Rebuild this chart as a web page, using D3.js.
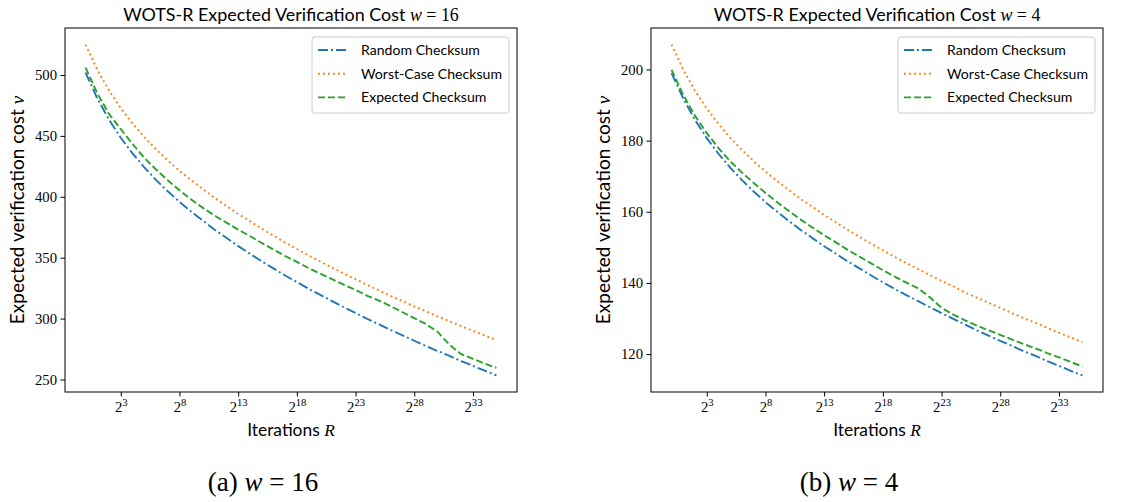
<!DOCTYPE html>
<html>
<head>
<meta charset="utf-8">
<script src="https://cdn.jsdelivr.net/npm/d3@7"></script>
<style>
  html, body { margin: 0; padding: 0; background: #fff; }
  svg { display: block; }
</style>
</head>
<body>
<svg id="fig" width="1138" height="502"></svg>
<script>
// Iteration counts R = 2^e for e = 0 .. 35
const exponents = [0,1,2,3,4,5,6,7,8,9,10,11,12,13,14,15,16,17,18,19,20,21,22,23,24,25,26,27,28,29,30,31,32,33,34,35];

// w = 16
const randomW16 = [502,480.8,463.3,448.5,435.6,424.2,413.9,404.5,395.9,387.8,380.4,373.0,366.3,359.5,353.3,347.1,341.2,335.4,330.0,324.5,319.4,314.4,309.3,304.6,299.7,295.2,290.6,286.2,281.8,277.5,273.3,269.3,265.1,261.2,257.2,253.3];
const worstW16 = [525,504.3,487.2,472.7,460.2,449.0,439.0,429.8,421.4,413.6,406.3,399.1,392.5,385.9,379.9,373.8,368.1,362.4,357.1,351.8,346.8,341.9,336.9,332.3,327.6,323.2,318.6,314.3,310.0,305.9,301.8,297.8,293.8,289.9,286.1,282.2];
const expectedW16 = [506,485,468,455.5,443.5,432,422.4,413.5,405.4,397.8,390.9,384.5,378.8,373,367.8,362.1,356.7,351.4,346.5,341.5,336.9,332.4,327.8,323.6,318.7,314.7,310.1,305.2,300.3,295.5,289,278.5,270.8,267,263,259.5];

// w = 4
const randomW4 = [199,191.8,185.8,180.7,176.3,172.4,168.9,165.7,162.7,160.0,157.4,154.9,152.6,150.3,148.2,146.1,144.1,142.1,140.2,138.3,136.6,134.9,133.2,131.5,129.9,128.3,126.7,125.2,123.7,122.3,120.8,119.5,118.0,116.7,115.3,114.0];
const worstW4 = [207,199.9,194.0,189.0,184.7,180.8,177.4,174.2,171.3,168.6,166.1,163.6,161.4,159.1,157.0,154.9,153.0,151.0,149.2,147.3,145.6,143.9,142.2,140.6,139.0,137.3,135.9,134.4,133.0,131.5,130.1,128.8,127.4,126.0,124.7,123.4];
const expectedW4 = [199.9,192.8,187,182.1,177.9,174.2,171,168.1,165.3,162.7,160.2,157.8,155.6,153.4,151.4,149.3,147.4,145.5,143.6,141.8,140.1,138.5,136,133,131.1,129.5,128,126.7,125.4,124.1,122.8,121.6,120.3,119.1,117.8,116.5];

const seriesNames = ["Random Checksum", "Worst-Case Checksum", "Expected Checksum"];
const xTickExponents = [3, 8, 13, 18, 23, 28, 33];
const yTicksW16 = [250, 300, 350, 400, 450, 500];
const yTicksW4 = [120, 140, 160, 180, 200];

// line styles per series
const styles = [
  { color: "#1f77b4", dash: "10,3,2,3" },
  { color: "#ff7f0e", dash: "1.9,3.1" },
  { color: "#2ca02c", dash: "7,3" }
];

const SANS = "Lato, 'Open Sans', sans-serif";
const SERIF = "'Liberation Serif', 'DejaVu Serif', serif";

const panels = [
  { w: "16", tag: "(a)", series: [randomW16, worstW16, expectedW16], yTicks: yTicksW16,
    left: 65, right: 517, top: 28, bottom: 392, yLabelX: 24, captionX: 263 },
  { w: "4", tag: "(b)", series: [randomW4, worstW4, expectedW4], yTicks: yTicksW4,
    left: 651, right: 1103, top: 28, bottom: 392, yLabelX: 610, captionX: 849 }
];

const svg = d3.select("#fig");
svg.append("rect").attr("width", 1138).attr("height", 502).attr("fill", "#fff");

panels.forEach(p => {
  const g = svg.append("g");
  const xs = exponents.map(e => Math.pow(2, e));
  const e0 = d3.min(exponents), e1 = d3.max(exponents), pad = 0.05 * (e1 - e0);
  const x = d3.scaleLog().base(2)
    .domain([Math.pow(2, e0 - pad), Math.pow(2, e1 + pad)])
    .range([p.left, p.right]);
  const all = p.series.flat();
  const lo = d3.min(all), hi = d3.max(all), yp = 0.05 * (hi - lo);
  const y = d3.scaleLinear().domain([lo - yp, hi + yp]).range([p.bottom, p.top]);

  // curves
  const line = d3.line().x((d, i) => x(xs[i])).y(d => y(d));
  p.series.forEach((s, k) => {
    g.append("path").datum(s)
      .attr("d", line)
      .attr("fill", "none")
      .attr("stroke", styles[k].color)
      .attr("stroke-width", 1.9)
      .attr("stroke-dasharray", styles[k].dash);
  });

  // frame
  g.append("rect")
    .attr("x", p.left).attr("y", p.top)
    .attr("width", p.right - p.left).attr("height", p.bottom - p.top)
    .attr("fill", "none").attr("stroke", "#000").attr("stroke-width", 1);

  // y axis
  const yAxis = g.append("g").attr("transform", `translate(${p.left},0)`)
    .call(d3.axisLeft(y).tickValues(p.yTicks).tickSize(4.5).tickPadding(3.5).tickFormat(d3.format("d")));
  yAxis.select(".domain").remove();
  yAxis.selectAll("line").attr("stroke", "#000");
  yAxis.selectAll("text").attr("font-family", SERIF).attr("font-size", 14.7).attr("fill", "#000");

  // x axis with 2^n labels
  const xAxis = g.append("g").attr("transform", `translate(0,${p.bottom})`)
    .call(d3.axisBottom(x).tickValues(xTickExponents.map(e => Math.pow(2, e))).tickSize(4.5).tickFormat(() => ""));
  xAxis.select(".domain").remove();
  xAxis.selectAll("line").attr("stroke", "#000");
  xAxis.selectAll(".tick").each(function (d) {
    const t = d3.select(this).select("text")
      .attr("y", 20).attr("dy", null)
      .attr("font-family", SERIF).attr("font-size", 14.7).attr("fill", "#000")
      .attr("text-anchor", "middle");
    t.text(null);
    t.append("tspan").text("2");
    t.append("tspan").attr("font-size", 10.6).attr("dy", -6).text(Math.round(Math.log2(d)));
  });

  const cx = (p.left + p.right) / 2;

  // title
  const title = g.append("text").attr("x", cx).attr("y", 21)
    .attr("text-anchor", "middle").attr("font-family", SANS).attr("font-size", 17.9).attr("fill", "#000");
  title.append("tspan").text("WOTS-R Expected Verification Cost ");
  title.append("tspan").attr("font-family", SERIF).attr("font-style", "italic").text("w");
  title.append("tspan").attr("font-family", SERIF).text(" = " + p.w);

  // axis labels
  const xl = g.append("text").attr("x", cx).attr("y", 436)
    .attr("text-anchor", "middle").attr("font-family", SANS).attr("font-size", 17.4).attr("fill", "#000");
  xl.append("tspan").text("Iterations ");
  xl.append("tspan").attr("font-family", SERIF).attr("font-style", "italic").text("R");

  const ym = (p.top + p.bottom) / 2;
  const yl = g.append("text").attr("transform", `translate(${p.yLabelX},${ym}) rotate(-90)`)
    .attr("text-anchor", "middle").attr("font-family", SANS).attr("font-size", 19).attr("fill", "#000");
  yl.append("tspan").text("Expected verification cost ");
  yl.append("tspan").attr("font-family", SERIF).attr("font-style", "italic").text("v");

  // legend
  const lw = 197, lh = 76;
  const lx = p.right - 8 - lw, ly = p.top + 9;
  const lg = g.append("g");
  lg.append("rect").attr("x", lx).attr("y", ly).attr("width", lw).attr("height", lh)
    .attr("rx", 3).attr("fill", "#fff").attr("fill-opacity", 0.8)
    .attr("stroke", "#cccccc").attr("stroke-width", 1);
  seriesNames.forEach((name, k) => {
    const ry = ly + 13 + k * 23.7;
    lg.append("line").attr("x1", lx + 6).attr("x2", lx + 36).attr("y1", ry).attr("y2", ry)
      .attr("stroke", styles[k].color).attr("stroke-width", 1.9).attr("stroke-dasharray", styles[k].dash);
    lg.append("text").attr("x", lx + 49).attr("y", ry + 5)
      .attr("font-family", SANS).attr("font-size", 14.1).attr("fill", "#000").text(name);
  });

  // subfigure caption
  const cap = svg.append("text").attr("x", p.captionX).attr("y", 491)
    .attr("text-anchor", "middle").attr("font-family", SERIF).attr("font-size", 27).attr("fill", "#000");
  cap.append("tspan").text(p.tag + " ");
  cap.append("tspan").attr("font-style", "italic").text("w");
  cap.append("tspan").text(" = " + p.w);
});
</script>
</body>
</html>
